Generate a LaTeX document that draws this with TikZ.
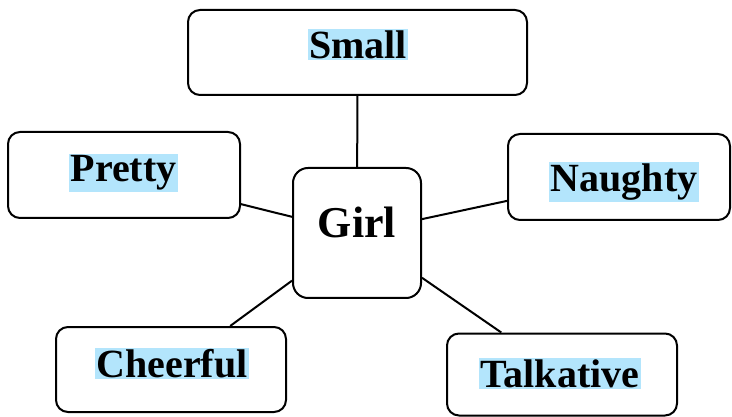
\documentclass[tikz,border=0pt]{standalone}
\usepackage{fontspec}
\setmainfont{Liberation Serif}
\usepackage{tikz}
\usetikzlibrary{positioning}
\definecolor{marker}{RGB}{179,229,252}
\tikzstyle{link} = [line width=2pt]
\tikzstyle{box} = [
    rectangle, rounded corners=12pt, draw=black, line width=2pt,
    fill=white, inner sep=0pt]
\tikzstyle{word} = [
    rectangle, fill=marker, inner sep=1.5pt,
    font=\bfseries\fontsize{40}{40}\selectfont]

\begin{document}
\begin{tikzpicture}[x=1pt, y=-1pt]
\useasboundingbox (0,0) rectangle (732,417);

\node (girl-box) [box, minimum width=128pt, minimum height=130pt, rounded corners=15pt] at (357,233) {};
\node (small-box) [box, minimum width=339pt, minimum height=85pt] at (357.5,52.5) {};
\node (pretty-box) [box, minimum width=232pt, minimum height=86pt] at (124,175) {};
\node (naughty-box) [box, minimum width=222pt, minimum height=86pt] at (619,177) {};
\node (cheerful-box) [box, minimum width=230pt, minimum height=85pt] at (171,369.5) {};
\node (talkative-box) [box, minimum width=230pt, minimum height=82pt] at (562,374.5) {};

\node (girl-word) [word, fill=none, font=\bfseries\fontsize{44}{44}\selectfont] at (357,222) {Girl};
\node (small-word) [word] at (358,44.5) {Small};
\node (pretty-word) [word] at (123.5,173) {Pretty};
\node (naughty-word) [word] at (624,182) {Naughty};
\node (cheerful-word) [word] at (172,363.5) {Cheerful};
\node (talkative-word) [word] at (560,373.5) {Talkative};

\draw [link] (small-box) -- (girl-box);
\draw [link] (pretty-box) -- (girl-box);
\draw [link] (naughty-box) -- (girl-box);
\draw [link] (cheerful-box) -- (girl-box);
\draw [link] (talkative-box) -- (girl-box);
\end{tikzpicture}
\end{document}
